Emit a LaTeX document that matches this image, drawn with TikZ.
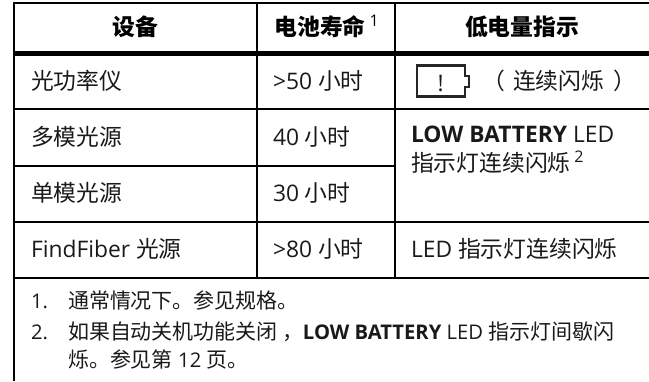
\documentclass[tikz,border=0pt]{standalone}
\usepackage{fontspec}
\setmainfont{Open Sans}
\newfontfamily\cjk{Noto Sans CJK SC}
\newcommand{\bodysize}{\fontsize{22.8}{26}\selectfont}
\newcommand{\zhbody}[1]{{\cjk\fontsize{22.8}{26}\selectfont #1}}
\newcommand{\zhnote}[1]{{\cjk\fontsize{21}{24}\selectfont #1}}
\newcommand{\supmark}[1]{\raisebox{9pt}{\fontsize{16}{18}\selectfont #1}}
\tikzset{
  rule/.style={line width=2pt,black},
  thickrule/.style={line width=5pt,black},
  celltext/.style={anchor=base west,inner sep=0pt,outer sep=0pt,text=black!90,font=\bodysize},
  headtext/.style={anchor=base,inner sep=0pt,outer sep=0pt,text=black,font=\bodysize},
  notetext/.style={anchor=base west,inner sep=0pt,outer sep=0pt,text=black!90,font=\fontsize{20.2}{24}\selectfont},
  battery/.style={line width=2.4pt,black!85,line join=miter}
}
\begin{document}
\begin{tikzpicture}[x=1pt,y=-1pt]
\useasboundingbox (0,0) rectangle (649,381);
% rules
\draw[rule] (14,3) -- (649,3);
\draw[thickrule] (14,53.7) -- (649,53.7);
\draw[rule] (14,109.3) -- (649,109.3);
\draw[rule] (14,165.7) -- (395,165.7);
\draw[rule] (14,221.7) -- (649,221.7);
\draw[rule] (14,277.7) -- (649,277.7);
\draw[rule] (14,2) -- (14,381);
\draw[rule] (257,3) -- (257,277.7);
\draw[rule] (395,3) -- (395,277.7);
% header
\node[headtext] (h1) at (135,35) {\zhbody{\bfseries 设备}};
\node[celltext,text=black] (h2) at (274.5,35) {\zhbody{\bfseries 电池寿命}\,\supmark{1}};
\node[headtext] (h3) at (522,35) {\zhbody{\bfseries 低电量指示}};
% col 1
\node[celltext] (a1) at (31,89.5) {\zhbody{光功率仪}};
\node[celltext] (a2) at (31,145) {\zhbody{多模光源}};
\node[celltext] (a3) at (31,201) {\zhbody{单模光源}};
\node[celltext] (a4) at (31,257) {FindFiber \zhbody{光源}};
% col 2
\node[celltext] (b1) at (273,89.5) {>50 \zhbody{小时}};
\node[celltext] (b2) at (273,145) {40 \zhbody{小时}};
\node[celltext] (b3) at (273,201) {30 \zhbody{小时}};
\node[celltext] (b4) at (273,257) {>80 \zhbody{小时}};
% col 3
\draw[battery] (417,65.5) -- (465,65.5) -- (465,76) -- (469,76) -- (469,87) -- (465,87) -- (465,96.5) -- (417,96.5) -- cycle;
\node[celltext] (bang) at (437.5,91) {!};
\node[celltext] (c1a) at (482,89.5) {\zhbody{（}};
\node[celltext] (c1) at (513,89.5) {\zhbody{连续闪烁}};
\node[celltext] (c1b) at (613,89.5) {\zhbody{）}};
\node[celltext] (c2) at (411,142) {\textbf{LOW BATTERY} LED};
\node[celltext] (c3) at (411,171) {\zhbody{指示灯连续闪烁}\,\supmark{2}};
\node[celltext] (c4) at (411,257) {LED \zhbody{指示灯连续闪烁}};
% notes
\node[notetext] (n1) at (31,308) {1.};
\node[notetext] (n1t) at (68,308) {\zhnote{通常情况下。参见规格。}};
\node[notetext] (n2) at (31,339) {2.};
\node[notetext] (n2t) at (68,339) {\zhnote{如果自动关机功能关闭\hspace{5pt}，}\hspace{-1pt}\textbf{LOW BATTERY} LED \zhnote{指示灯间歇闪}};
\node[notetext] (n3t) at (68,367) {\zhnote{烁。参见第} 12 \zhnote{页。}};
\end{tikzpicture}
\end{document}
